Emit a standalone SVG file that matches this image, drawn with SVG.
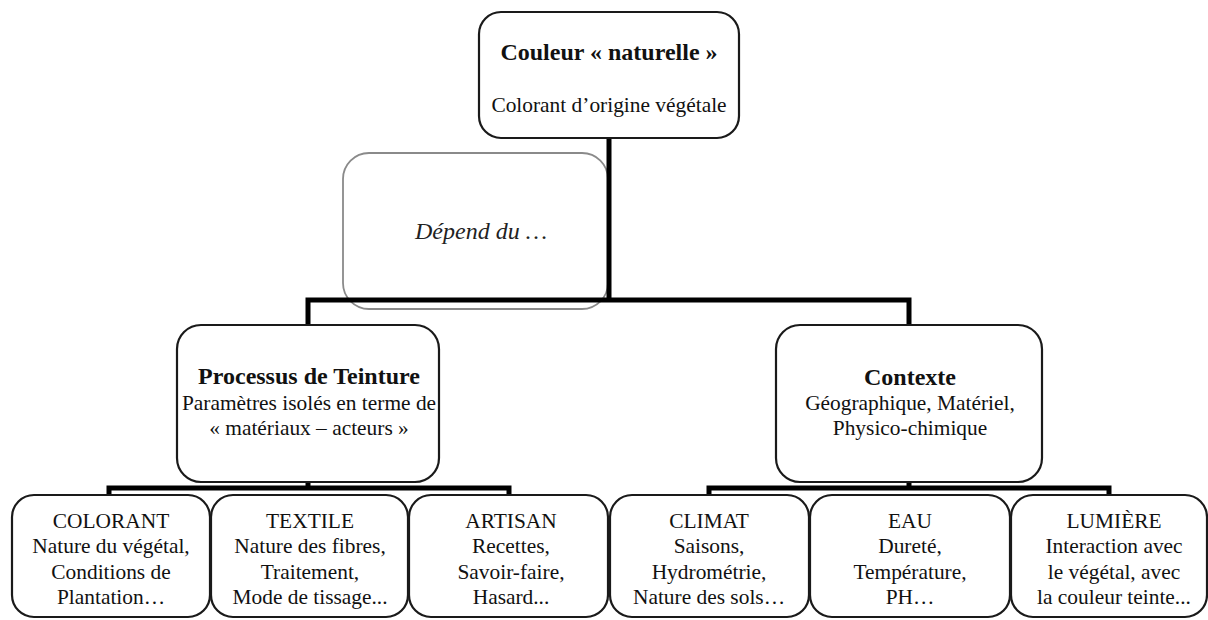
<svg xmlns="http://www.w3.org/2000/svg" width="1208" height="620" viewBox="0 0 1208 620">
<style>
.box{fill:#fff;stroke:#1a1a1a;stroke-width:2.2}
.gbox{fill:#fff;stroke:#8a8a8a;stroke-width:1.8}
text{font-family:"Liberation Serif","DejaVu Serif",serif;font-size:21.4px;fill:#111;text-anchor:middle}
.b{font-weight:bold;font-size:24px}
.i{font-style:italic;font-size:24px;fill:#222}
.c{fill:none;stroke:#000;stroke-width:5;stroke-linejoin:miter;stroke-linecap:butt}
</style>
<rect width="1208" height="620" fill="#fff"/>
<g id="depend">
<rect class="gbox" x="343" y="153" width="265" height="156" rx="26"/>
<text class="i" x="481" y="239">Dépend du  …</text>
</g>
<g id="connectors">
<path class="c" d="M609,138 V300"/>
<path class="c" d="M308,326 V300 H909 V326"/>
<path class="c" d="M308,482 V488"/>
<path class="c" d="M109,496 V488 H509 V496"/>
<path class="c" d="M909,482 V488"/>
<path class="c" d="M709,496 V488 H1109 V496"/>
</g>
<g id="couleur">
<rect class="box" x="479" y="12" width="260" height="126" rx="22"/>
<text class="b" x="609" y="60">Couleur « naturelle »</text>
<text x="609" y="112">Colorant d’origine végétale</text>
</g>
<g id="processus">
<rect class="box" x="177" y="325" width="262" height="157" rx="24"/>
<text class="b" x="309" y="384">Processus de Teinture</text>
<text x="309" y="410">Paramètres isolés en terme de</text>
<text x="309" y="435">« matériaux – acteurs »</text>
</g>
<g id="contexte">
<rect class="box" x="776" y="325" width="266" height="157" rx="24"/>
<text class="b" x="910" y="385">Contexte</text>
<text x="910" y="410">Géographique, Matériel,</text>
<text x="910" y="435">Physico-chimique</text>
</g>
<g id="colorant">
<rect class="box" x="12" y="495" width="198" height="122" rx="22"/>
<text x="111" y="528">COLORANT</text>
<text x="111" y="553">Nature du végétal,</text>
<text x="111" y="579">Conditions de</text>
<text x="111" y="604">Plantation…</text>
</g>
<g id="textile">
<rect class="box" x="211" y="495" width="197" height="122" rx="22"/>
<text x="310" y="528">TEXTILE</text>
<text x="310" y="553">Nature des fibres,</text>
<text x="310" y="579">Traitement,</text>
<text x="310" y="604">Mode de tissage...</text>
</g>
<g id="artisan">
<rect class="box" x="409" y="495" width="199" height="122" rx="22"/>
<text x="511" y="528">ARTISAN</text>
<text x="511" y="553">Recettes,</text>
<text x="511" y="579">Savoir-faire,</text>
<text x="511" y="604">Hasard...</text>
</g>
<g id="climat">
<rect class="box" x="610" y="495" width="199" height="122" rx="22"/>
<text x="709" y="528">CLIMAT</text>
<text x="709" y="553">Saisons,</text>
<text x="709" y="579">Hydrométrie,</text>
<text x="709" y="604">Nature des sols…</text>
</g>
<g id="eau">
<rect class="box" x="810" y="495" width="200" height="122" rx="22"/>
<text x="910" y="528">EAU</text>
<text x="910" y="553">Dureté,</text>
<text x="910" y="579">Température,</text>
<text x="910" y="604">PH…</text>
</g>
<g id="lumiere">
<rect class="box" x="1011" y="495" width="196" height="122" rx="22"/>
<text x="1114" y="528">LUMIÈRE</text>
<text x="1114" y="553">Interaction avec</text>
<text x="1114" y="579">le végétal, avec</text>
<text x="1114" y="604">la couleur teinte...</text>
</g>
</svg>
